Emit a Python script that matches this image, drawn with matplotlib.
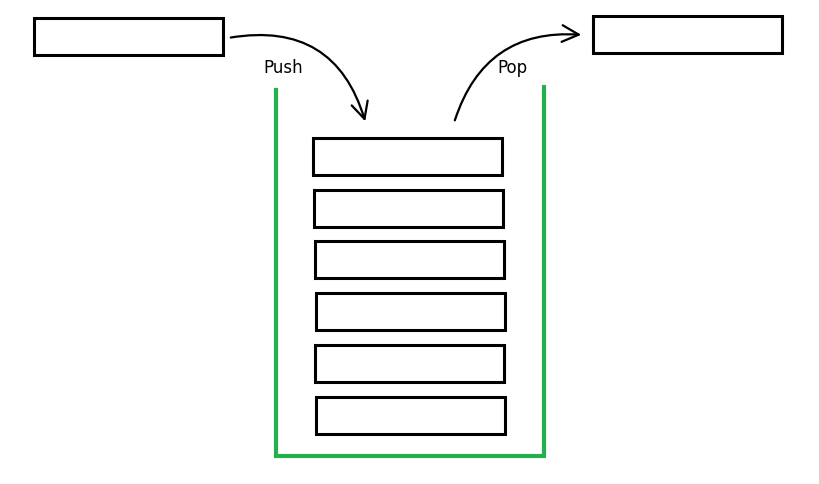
import matplotlib
matplotlib.use("Agg")
import matplotlib.pyplot as plt
from matplotlib.patches import Rectangle, FancyArrowPatch

# boxes as (x, y, width, height) in pixel units
source_box = (34, 18, 189, 37)
target_box = (593, 16, 189, 37)
stack_boxes = [
    (313, 138, 189, 37),
    (314, 190, 189, 37),
    (315, 241, 189, 37),
    (316, 293, 189, 37),
    (315, 345, 189, 37),
    (316, 397, 189, 37),
]
container_x = [276, 276, 544, 544]
container_y = [90, 456, 456, 87]
labels = ["Push", "Pop"]

fig = plt.figure(figsize=(8.2, 4.84), dpi=100)
ax = fig.add_axes([0, 0, 1, 1])
ax.set_xlim(0, 820)
ax.set_ylim(484, 0)
ax.axis("off")

for x, y, w, h in [source_box, target_box] + stack_boxes:
    ax.add_patch(Rectangle((x, y), w, h, fill=False, ec="black", lw=2.2))

ax.plot(container_x, container_y, color="#22b14c", lw=3, solid_joinstyle="miter")

push = FancyArrowPatch((228, 38), (366, 124), connectionstyle="arc3,rad=-0.45",
                       arrowstyle="->,head_length=12,head_width=6", color="black", lw=1.6)
pop = FancyArrowPatch((454, 123), (584, 35), connectionstyle="arc3,rad=-0.4",
                      arrowstyle="->,head_length=12,head_width=6", color="black", lw=1.6)
ax.add_patch(push)
ax.add_patch(pop)

ax.text(283, 68, labels[0], fontsize=12, ha="center", va="center")
ax.text(512, 68, labels[1], fontsize=12, ha="center", va="center")

fig.savefig("out.png", dpi=100)
